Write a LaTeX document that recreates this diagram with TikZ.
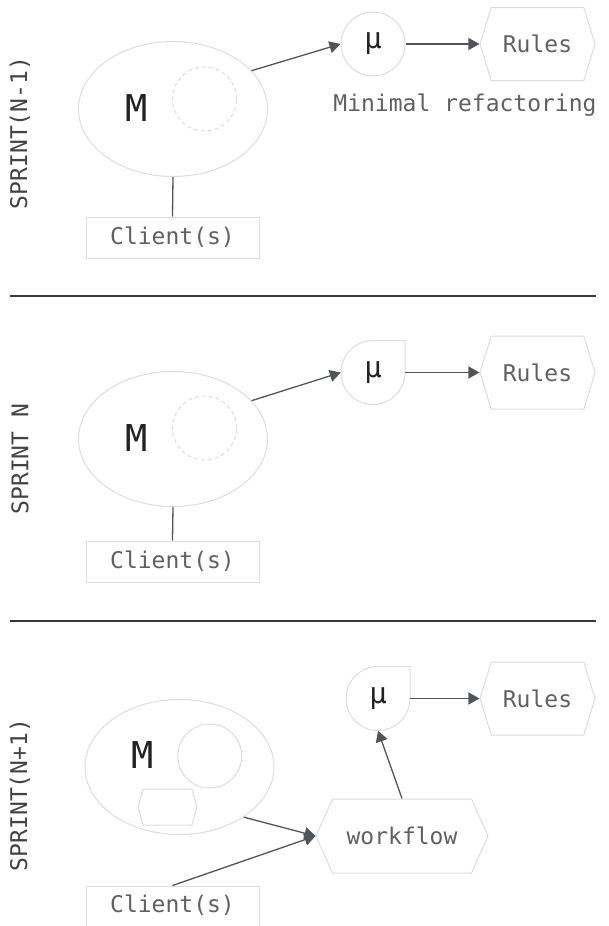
\documentclass[tikz,border=0pt]{standalone}
\usepackage{fontspec}
\setmonofont{DejaVu Sans Mono}
\usetikzlibrary{shapes.geometric,shapes.symbols,arrows.meta}
\definecolor{edge}{HTML}{50555C}
\definecolor{outl}{HTML}{DCDCE0}
\definecolor{txt}{HTML}{606060}
\definecolor{dark}{HTML}{222222}
\newcommand\dropshape[3]{%
  \node[mucirc] (#1) at (#2,#3) {μ};
  \draw[outline] (#2,#3-32) -- (#2+32,#3-32) -- (#2+32,#3)
    .. controls (#2+32,#3+17.7) and (#2+17.7,#3+32) .. (#2,#3+32)
    .. controls (#2-17.7,#3+32) and (#2-32,#3+17.7) .. (#2-32,#3)
    .. controls (#2-32,#3-17.7) and (#2-17.7,#3-32) .. (#2,#3-32) -- cycle;
}
\begin{document}
\begin{tikzpicture}[x=1pt,y=-1pt,
  outline/.style={draw=outl, line width=1pt},
  lbl/.style={font=\ttfamily\fontsize{23}{27}\selectfont, text=txt},
  sprint/.style={font=\ttfamily\fontsize{23}{27}\selectfont, text=dark!85, rotate=90},
  mlabel/.style={font=\ttfamily\fontsize{37}{40}\selectfont, text=dark},
  clientbox/.style={rectangle, outline, minimum width=173pt, minimum height=41pt, inner sep=0pt, lbl},
  hexa/.style={signal, signal to=east and west, outline, inner sep=0pt, lbl},
  blob/.style={ellipse, outline, minimum width=189pt, minimum height=135pt, inner sep=0pt},
  core/.style={circle, outline, minimum size=64pt, inner sep=0pt},
  mucirc/.style={circle, minimum size=64pt, inner sep=0pt, font=\ttfamily\fontsize{29}{32}\selectfont, text=dark, text height=12pt, text depth=3pt},
  conn/.style={draw=edge, line width=1.3pt},
  arr/.style={conn, -{Triangle[length=11pt,width=12pt]}},
  sepline/.style={draw=dark!90, line width=1.3pt}
]
\useasboundingbox (0,0) rectangle (609,926);

% ---------- Sprint N-1
\node[sprint] (s1) at (20,133) {SPRINT(N-1)};
\node[blob] (M1) at (173,109) {};
\node[mlabel] (m1) at (137,108) {M};
\node[core, dash pattern=on 4pt off 3pt] (c1) at (204.5,99) {};
\node[clientbox] (client1) at (172.5,237.5) {Client(s)};
\node[mucirc, outline] (mu1) at (373,44) {μ};
\node[hexa, minimum width=115pt, minimum height=73pt, signal pointer angle=146] (rules1) at (537.5,44) {Rules};
\node[lbl] (note1) at (465,105) {Minimal refactoring};
\draw[conn] (M1.south) -- (client1.north);
\draw[arr] (M1.26) -- (mu1.west);
\draw[arr] (mu1.east) -- (rules1.west);

\coordinate (l1a) at (10,296);
\coordinate (l1b) at (596,296);
\draw[sepline] (l1a) -- (l1b);

% ---------- Sprint N
\node[sprint] (s2) at (20,459) {SPRINT N};
\node[blob] (M2) at (173,439) {};
\node[mlabel] (m2) at (137,438) {M};
\node[core, dash pattern=on 4pt off 3pt] (c2) at (204.5,428) {};
\node[clientbox] (client2) at (172.5,561.5) {Client(s)};
\dropshape{mu2}{373}{372.5}
\node[hexa, minimum width=115pt, minimum height=73pt, signal pointer angle=146] (rules2) at (537.5,372.5) {Rules};
\draw[conn] (M2.south) -- (client2.north);
\draw[arr] (M2.26) -- (mu2.west);
\draw[arr] (mu2.east) -- (rules2.west);

\coordinate (l2a) at (10,621);
\coordinate (l2b) at (596,621);
\draw[sepline] (l2a) -- (l2b);

% ---------- Sprint N+1
\node[sprint] (s3) at (20,795) {SPRINT(N+1)};
\node[blob] (M3) at (179.5,767) {};
\node[mlabel] (m3) at (143,755) {M};
\node[core] (c3) at (209.7,756) {};
\node[hexa, minimum width=59pt, minimum height=36pt, signal pointer angle=148] (h3) at (167.5,807) {};
\node[clientbox, minimum height=46pt, text height=15pt, text depth=4pt] (client3) at (172.5,909) {\raisebox{2.5pt}{Client(s)}};
\node[hexa, minimum width=172pt, minimum height=74pt, signal pointer angle=132] (wf) at (402,836) {workflow};
\dropshape{mu3}{378}{698.5}
\node[hexa, minimum width=115pt, minimum height=73pt, signal pointer angle=146] (rules3) at (537.5,698.5) {Rules};
\draw[arr] (M3.-38) -- (wf.west);
\draw[arr] (client3.north) -- (wf.west);
\draw[arr] (wf.north) -- (mu3.south);
\draw[arr] (mu3.east) -- (rules3.west);
\end{tikzpicture}
\end{document}
